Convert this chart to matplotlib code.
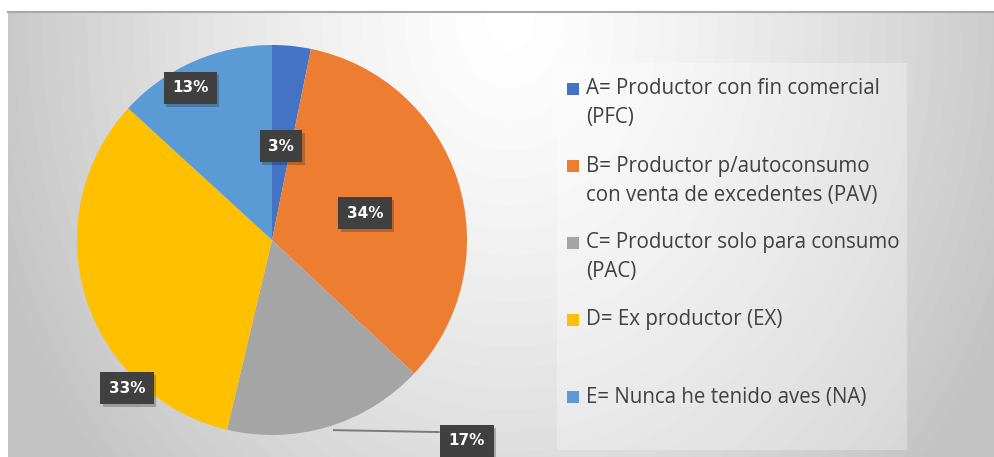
import numpy as np
import matplotlib
matplotlib.use("Agg")
import matplotlib.pyplot as plt
import matplotlib.patches as patches
import matplotlib.patheffects as pe
from matplotlib.lines import Line2D

W, H = 995, 457

# slices go clockwise from 12 o'clock, same order as the legend
categories = [
    "A= Productor con fin comercial\n(PFC)",
    "B= Productor p/autoconsumo\ncon venta de excedentes (PAV)",
    "C= Productor solo para consumo\n(PAC)",
    "D= Ex productor (EX)",
    "E= Nunca he tenido aves (NA)",
]
shares = [3.2, 33.8, 16.7, 33.1, 13.2]
colors = ["#4472C4", "#ED7D31", "#A5A5A5", "#FFC000", "#5B9BD5"]

# where the % boxes sit, in pie radii from the centre (excel placed them by hand)
label_xy = [(0.046, 0.48), (0.477, 0.138), (1.0, -1.03), (-0.744, -0.759), (-0.42, 0.78)]


def px(x, y):
    # pixel (from top-left) -> figure fraction
    return x / W, 1 - y / H


fig = plt.figure(figsize=(W / 100, H / 100), dpi=100)

# grey radial background of the chart area
bg = fig.add_axes([8 / W, 0, (W - 8) / W, (H - 11) / H])
yy, xx = np.mgrid[11:H, 8:W]
r = np.sqrt(((xx - 510) / 520.0) ** 2 + ((yy - 20) / 650.0) ** 2)
val = np.clip(255 - 56 * r ** 1.3, 196, 255) / 255.0
bg.imshow(val, cmap="gray", vmin=0, vmax=1, extent=(0, 1, 0, 1), aspect="auto")
bg.axis("off")
fig.add_artist(Line2D([8 / W, 1], [1 - 11.5 / H] * 2, color="#a8a8a8", lw=1.5))

# pie, centre (272,240) radius 195 px
cx, cy, R = 272, 240, 195
ax = fig.add_axes([(cx - R) / W, (H - cy - R) / H, 2 * R / W, 2 * R / H])
wedges, _ = ax.pie(shares, colors=colors, startangle=90, counterclock=False,
                   radius=1, wedgeprops=dict(linewidth=0))
ax.set_xlim(-1, 1)
ax.set_ylim(-1, 1)
ax.set_aspect("equal")
ax.axis("off")

box = dict(boxstyle="square,pad=0.55", fc="#404040", ec="none")
for i, (v, (lx, ly)) in enumerate(zip(shares, label_xy)):
    if i == 2:
        # the 17% one hangs outside, flat leader line back to the grey slice
        ax.plot([0.313, lx - 0.14], [-0.975, -0.985], color="#7a7a7a", lw=1.4,
                solid_capstyle="butt", clip_on=False)
    t = ax.text(lx, ly, f"{round(v)}%", ha="center", va="center", color="white",
                fontsize=11, fontweight="bold", bbox=box, zorder=5)
    t.get_bbox_patch().set_path_effects([pe.SimplePatchShadow(offset=(2, -2), alpha=0.25),
                                         pe.Normal()])

# legend drawn by hand so each entry keeps excel's fixed slot height
fig.add_artist(patches.Rectangle(px(557, 450), 350 / W, 387 / H, transform=fig.transFigure,
                                 facecolor="white", alpha=0.3, edgecolor="none"))
for i, (lab, c) in enumerate(zip(categories, colors)):
    y0 = 89 + 77 * i
    fig.add_artist(patches.Rectangle(px(567, y0 + 6), 12 / W, 12 / H,
                                     transform=fig.transFigure, facecolor=c, edgecolor="none"))
    for j, line in enumerate(lab.split("\n")):
        fx, fy = px(586, y0 + 29 * j)
        fig.text(fx, fy, line, ha="left", va="center", fontsize=14.8,
                 family="Open Sans", color="#404040")

fig.savefig("out.png", dpi=100)
